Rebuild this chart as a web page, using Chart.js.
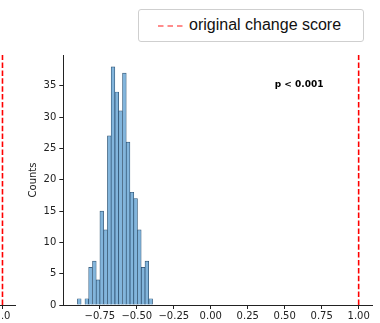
<!DOCTYPE html>
<html lang="en">
<head>
    <meta charset="UTF-8">
    <title>Null distribution</title>
    <script src="https://cdn.jsdelivr.net/npm/chart.js"></script>
    <style>
        html, body { margin: 0; padding: 0; background: #fff; }
        #wrap { position: relative; width: 380px; height: 323px; overflow: hidden; }
        #mainCanvas { position: absolute; left: 0; top: 0; }
        #leftCanvas { position: absolute; left: -184px; top: 0; }
        #legend {
            position: absolute; left: 138px; top: 9px; width: 224px; height: 31px;
            border: 1px solid #cfcfcf; border-radius: 3px; background: #fff;
            font: 16px "Liberation Sans", Arial, sans-serif; color: #111;
        }
        #legend svg { position: absolute; left: 19px; top: 14px; }
        #legendText { position: absolute; left: 50px; top: 6px; white-space: nowrap; }
    </style>
</head>
<body>
<div id="wrap">
    <canvas id="leftCanvas" width="200" height="323"></canvas>
    <canvas id="mainCanvas" width="380" height="323"></canvas>
    <div id="legend">
        <svg width="26" height="4"><line x1="0" y1="2" x2="26" y2="2" stroke="rgba(255,0,0,0.6)" stroke-width="1.5" stroke-dasharray="5.5 4"/></svg>
        <span id="legendText"></span>
    </div>
</div>
<script>
    // histogram bins (centres) and counts
    const binCenters = [-0.889, -0.864, -0.838, -0.813, -0.787, -0.762, -0.737, -0.711, -0.686, -0.661,
                        -0.635, -0.610, -0.584, -0.559, -0.533, -0.508, -0.483, -0.457, -0.432, -0.406];
    const counts = [1, 0, 1, 6, 7, 4, 15, 12, 27, 38, 34, 31, 37, 26, 18, 17, 12, 6, 7, 1];

    const originalScore = 1.0;
    const lineLabel = "original change score";
    const pText = "p < 0.001";

    const xTicks = [-0.75, -0.50, -0.25, 0.00, 0.25, 0.50, 0.75, 1.00];
    const yTicks = [0, 5, 10, 15, 20, 25, 30, 35];
    const xMin = -0.997, xMax = 1.095;
    const yMax = 39.9;

    // left neighbour panel (only its right edge is visible)
    const leftTicks = [1.0];
    const leftMin = -1.0, leftMax = 1.145;

    document.getElementById("legendText").textContent = lineLabel;

    const tickFont = { family: "DejaVu Sans", size: 10 };

    function fmtTick(v) {
        return (v < 0 ? "\u2212" : "") + Math.abs(v).toFixed(2);
    }

    const pLabel = {
        id: "pLabel",
        afterDraw(chart) {
            const a = chart.chartArea;
            const ctx = chart.ctx;
            ctx.save();
            ctx.font = "bold 9px 'DejaVu Sans'";
            ctx.fillStyle = "#000";
            ctx.textAlign = "center";
            ctx.textBaseline = "middle";
            ctx.fillText(pText, a.left + 0.762 * (a.right - a.left), a.top + 0.12 * (a.bottom - a.top));
            ctx.restore();
        }
    };

    new Chart(document.getElementById("mainCanvas"), {
        data: {
            datasets: [
                {
                    type: "bar",
                    data: binCenters.map((x, i) => ({ x: x, y: counts[i] })),
                    backgroundColor: "#82b5dc",
                    borderColor: "#2b4d6c",
                    borderWidth: 0.7,
                    barPercentage: 1,
                    categoryPercentage: 1,
                    order: 2
                },
                {
                    type: "line",
                    data: [{ x: originalScore, y: 0 }, { x: originalScore, y: yMax }],
                    borderColor: "#ff0000",
                    borderWidth: 1.6,
                    borderDash: [5.5, 2.4],
                    pointRadius: 0,
                    order: 1
                }
            ]
        },
        options: {
            responsive: false,
            animation: false,
            layout: { padding: { left: 0, right: 7.3, top: 55, bottom: 0 } },
            plugins: { legend: { display: false }, tooltip: { enabled: false } },
            scales: {
                x: {
                    type: "linear",
                    offset: false,
                    min: xMin, max: xMax,
                    afterBuildTicks: s => { s.ticks = xTicks.map(v => ({ value: v })); },
                    afterFit: s => { s.height = 18; },
                    ticks: { font: tickFont, color: "#222", padding: 1, maxRotation: 0, autoSkip: false, callback: v => fmtTick(v) },
                    grid: { offset: false, drawOnChartArea: false, drawTicks: true, tickLength: 4, color: "#222" },
                    border: { display: true, color: "#222", width: 1 }
                },
                y: {
                    min: 0, max: yMax,
                    afterBuildTicks: s => { s.ticks = yTicks.map(v => ({ value: v })); },
                    afterFit: s => { s.width = 63.3; },
                    ticks: { font: tickFont, color: "#222", padding: 3, autoSkip: false },
                    grid: { drawOnChartArea: false, drawTicks: true, tickLength: 4, color: "#222" },
                    border: { display: true, color: "#222", width: 1 },
                    title: { display: true, text: "Counts", font: tickFont, color: "#222", padding: { top: 27, bottom: 0 } }
                }
            }
        },
        plugins: [pLabel]
    });

    new Chart(document.getElementById("leftCanvas"), {
        type: "line",
        data: {
            datasets: [{
                data: [{ x: originalScore, y: 0 }, { x: originalScore, y: 1 }],
                borderColor: "#ff0000",
                borderWidth: 1.6,
                borderDash: [5.5, 2.4],
                pointRadius: 0
            }]
        },
        options: {
            responsive: false,
            animation: false,
            layout: { padding: { left: 0, right: 0, top: 55, bottom: 0 } },
            plugins: { legend: { display: false }, tooltip: { enabled: false } },
            scales: {
                x: {
                    type: "linear",
                    min: leftMin, max: leftMax,
                    afterBuildTicks: s => { s.ticks = leftTicks.map(v => ({ value: v })); },
                    afterFit: s => { s.height = 18; },
                    ticks: { font: tickFont, color: "#222", padding: 1, maxRotation: 0, callback: v => v.toFixed(1) },
                    grid: { drawOnChartArea: false, drawTicks: true, tickLength: 4, color: "#222" },
                    border: { display: true, color: "#222", width: 1 }
                },
                y: { display: false, min: 0, max: 1 }
            }
        }
    });
</script>
</body>
</html>
